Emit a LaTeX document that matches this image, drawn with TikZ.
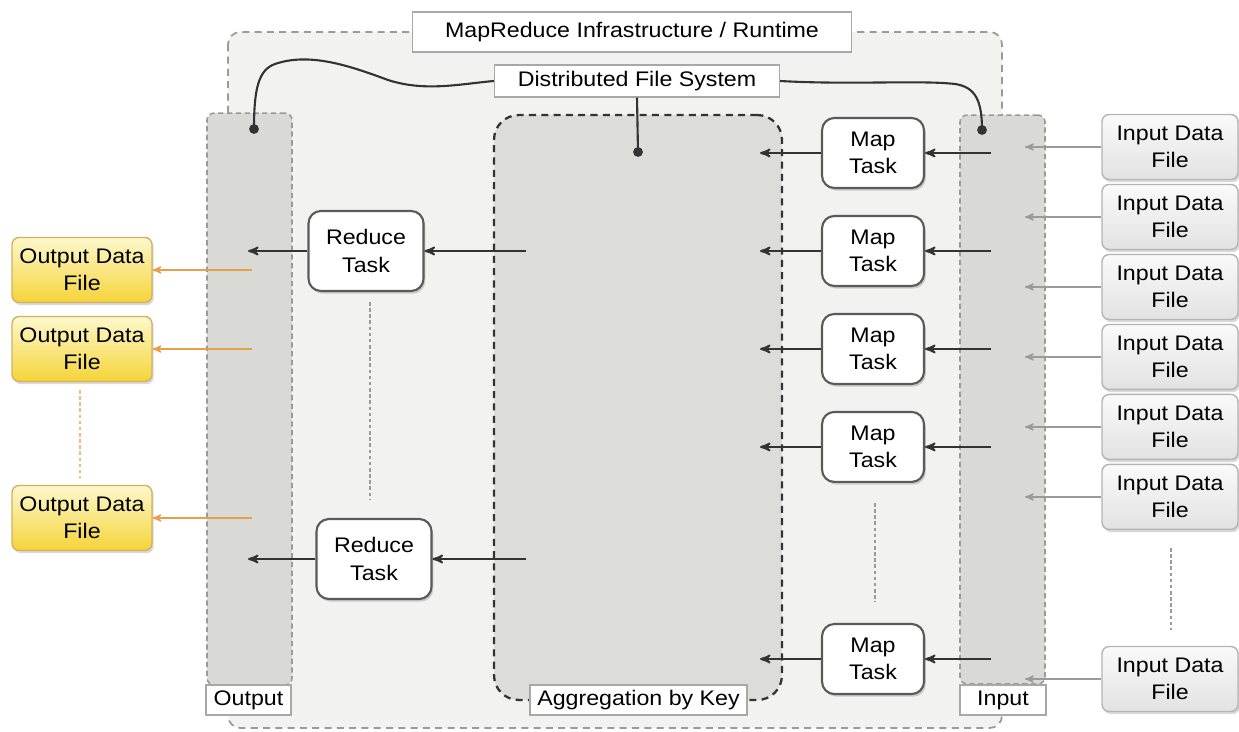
\documentclass[tikz,border=0pt]{standalone}
\usepackage{fontspec}
\setmainfont{Liberation Sans}[FakeStretch=1.1]
\usetikzlibrary{arrows,shadows}

\definecolor{runtimebg}{HTML}{F2F2F0}
\definecolor{colbg}{HTML}{D9D9D6}
\definecolor{aggbg}{HTML}{DCDCD8}
\definecolor{linegray}{HTML}{9A9A9A}
\definecolor{labelgray}{HTML}{A8A8A8}
\definecolor{darkline}{HTML}{333333}
\definecolor{taskborder}{HTML}{5A5A5A}
\definecolor{outtop}{HTML}{FDF8CC}
\definecolor{outbot}{HTML}{F5D438}
\definecolor{outborder}{HTML}{D4B060}
\definecolor{outarrow}{HTML}{E8A048}
\definecolor{intop}{HTML}{FAFAFA}
\definecolor{inbot}{HTML}{E2E2E2}
\definecolor{inborder}{HTML}{B4B4B4}

\begin{document}
\begin{tikzpicture}[x=0.02cm,y=-0.02cm,node distance=1.96cm,>=stealth',font=\fontsize{12}{15.5}\selectfont]
		\tikzstyle{runtime}=[draw=linegray, dash pattern=on 4pt off 3pt, line width=1pt, fill=runtimebg, rounded corners=7pt]
		\tikzstyle{colbox}=[rectangle, draw=linegray, dash pattern=on 3pt off 2pt, line width=0.9pt, fill=colbg, rounded corners=4pt, minimum width=1.7cm, inner sep=0pt]
		\tikzstyle{aggregation}=[rectangle, draw=darkline, dash pattern=on 4pt off 3pt, line width=1.3pt, fill=aggbg, rounded corners=14pt, minimum width=5.76cm, minimum height=11.7cm]
		\tikzstyle{tag}=[rectangle, draw=labelgray, line width=0.8pt, fill=white, minimum height=0.6cm, inner sep=2pt]
		\tikzstyle{taskbox}=[rectangle, draw=taskborder, line width=1.2pt, fill=white, rounded corners=7pt, align=center, drop shadow={opacity=0.35, shadow xshift=1pt, shadow yshift=-1.5pt}]
		\tikzstyle{maptask}=[taskbox, minimum width=2.04cm, minimum height=1.4cm]
		\tikzstyle{reducetask}=[taskbox, minimum width=2.3cm, minimum height=1.6cm]
		\tikzstyle{infile}=[rectangle, draw=inborder, line width=0.8pt, top color=intop, bottom color=inbot, rounded corners=4pt, align=center, minimum width=2.72cm, minimum height=1.3cm, drop shadow={opacity=0.3, shadow xshift=1pt, shadow yshift=-1.5pt}]
		\tikzstyle{outfile}=[rectangle, draw=outborder, line width=0.8pt, top color=outtop, bottom color=outbot, rounded corners=4pt, align=center, minimum width=2.8cm, minimum height=1.3cm, drop shadow={opacity=0.3, shadow xshift=1pt, shadow yshift=-1.5pt}]
		\tikzstyle{flow}=[->, draw=darkline, line width=1.1pt]
		\tikzstyle{feed}=[->, draw=linegray, line width=0.8pt]
		\tikzstyle{emit}=[->, draw=outarrow, line width=0.8pt]
		\tikzstyle{more}=[draw=linegray, line width=0.8pt, dash pattern=on 2pt off 1.5pt]
		\tikzstyle{dfsline}=[draw=darkline, line width=1.2pt]

		\useasboundingbox (0,0) rectangle (1239,732);

		% runtime frame and its columns
		\draw [runtime] (228,32) rectangle (1002,728);
		\node [tag, minimum width=8.78cm, minimum height=0.8cm] (title) at (632,32) {MapReduce Infrastructure / Runtime};
		\node [colbox, minimum height=11.44cm] (outcol) at (249.5,399) {};
		\node [colbox, minimum height=11.38cm] (incol) at (1002.5,399.5) {};
		\node [aggregation] (agg) at (638,407.5) {};
		\node [tag, minimum width=1.7cm] (outtag) at (248.5,700) {Output};
		\node [tag, minimum width=1.72cm] (intag) at (1003,700) {Input};
		\node [tag, minimum width=4.34cm] (aggtag) at (638.5,700) {Aggregation by Key};
		\node [tag, minimum width=5.7cm, minimum height=0.64cm] (dfs) at (637,81) {Distributed File System};

		% tasks
		\node [maptask] (m1) at (873,153) {Map\\Task};
		\node [maptask] (m2) [below of=m1] {Map\\Task};
		\node [maptask] (m3) [below of=m2] {Map\\Task};
		\node [maptask] (m4) [below of=m3] {Map\\Task};
		\node [maptask] (m5) at (873,659) {Map\\Task};
		\node [reducetask] (r1) at (366,251) {Reduce\\Task};
		\node [reducetask] (r2) at (374,559) {Reduce\\Task};

		% data files
		\begin{scope}[node distance=1.4cm]
		\node [infile] (in1) at (1170,147) {Input Data\\File};
		\node [infile] (in2) [below of=in1] {Input Data\\File};
		\node [infile] (in3) [below of=in2] {Input Data\\File};
		\node [infile] (in4) [below of=in3] {Input Data\\File};
		\node [infile] (in5) [below of=in4] {Input Data\\File};
		\node [infile] (in6) [below of=in5] {Input Data\\File};
		\end{scope}
		\node [infile] (in7) at (1170,679) {Input Data\\File};
		\node [outfile] (f1) at (82,270) {Output Data\\File};
		\node [outfile] (f2) at (82,349) {Output Data\\File};
		\node [outfile] (f3) at (82,518) {Output Data\\File};

		% free ends inside the columns
		\coordinate (aggin) at (760,0);
		\coordinate (aggout) at (526,0);
		\coordinate (outin) at (248,0);
		\coordinate (outout) at (252,0);
		\coordinate (inout) at (991,0);
		\coordinate (inin) at (1025,0);
		\coordinate (dotl) at (254,129);
		\coordinate (dotm) at (638,152);
		\coordinate (dotr) at (982,130);

		% input -> map -> aggregation
		\draw [feed] (in1.west) -- (inin |- in1.west);
		\draw [feed] (in2.west) -- (inin |- in2.west);
		\draw [feed] (in3.west) -- (inin |- in3.west);
		\draw [feed] (in4.west) -- (inin |- in4.west);
		\draw [feed] (in5.west) -- (inin |- in5.west);
		\draw [feed] (in6.west) -- (inin |- in6.west);
		\draw [feed] (in7.west) -- (inin |- in7.west);
		\draw [flow] (inout |- m1.east) -- (m1.east);
		\draw [flow] (inout |- m2.east) -- (m2.east);
		\draw [flow] (inout |- m3.east) -- (m3.east);
		\draw [flow] (inout |- m4.east) -- (m4.east);
		\draw [flow] (inout |- m5.east) -- (m5.east);
		\draw [flow] (m1.west) -- (aggin |- m1.west);
		\draw [flow] (m2.west) -- (aggin |- m2.west);
		\draw [flow] (m3.west) -- (aggin |- m3.west);
		\draw [flow] (m4.west) -- (aggin |- m4.west);
		\draw [flow] (m5.west) -- (aggin |- m5.west);

		% aggregation -> reduce -> output
		\draw [flow] (aggout |- r1.east) -- (r1.east);
		\draw [flow] (aggout |- r2.east) -- (r2.east);
		\draw [flow] (r1.west) -- (outin |- r1.west);
		\draw [flow] (r2.west) -- (outin |- r2.west);
		\draw [emit] (outout |- f1.east) -- (f1.east);
		\draw [emit] (outout |- f2.east) -- (f2.east);
		\draw [emit] (outout |- f3.east) -- (f3.east);

		% elided items
		\draw [more] (370,302) -- (370,500);
		\draw [more] (875,503) -- (875,602);
		\draw [more] (1171,548) -- (1171,630);
		\draw [more, draw=outarrow!70] (80,390) -- (80,478);

		% file system links
		\draw [dfsline] (dfs.west) .. controls (460,84) and (425,92) .. (388,80) .. controls (350,66) and (310,52) .. (275,64) .. controls (258,70) and (254,90) .. (dotl);
		\draw [dfsline] (dfs.east) .. controls (850,85) and (920,80) .. (955,84) .. controls (975,87) and (982,100) .. (dotr);
		\draw [dfsline] (dfs.south) -- (dotm);
		\fill [darkline] (dotl) circle (2.8pt) (dotm) circle (2.8pt) (dotr) circle (2.8pt);
	\end{tikzpicture}
\end{document}
